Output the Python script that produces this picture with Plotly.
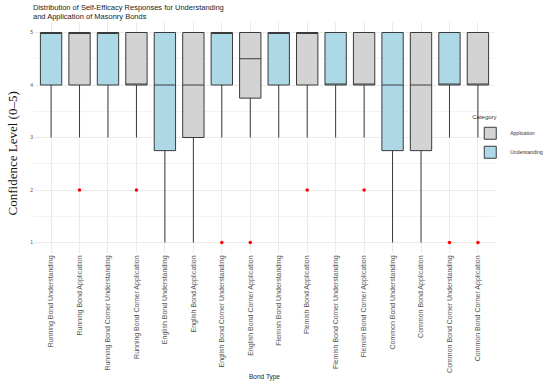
import plotly.graph_objects as go

categories = [
    "Running Bond Understanding", "Running Bond Application",
    "Running Bond Corner Understanding", "Running Bond Corner Application",
    "English Bond Understanding", "English Bond Application",
    "English Bond Corner Understanding", "English Bond Corner Application",
    "Flemish Bond Understanding", "Flemish Bond Application",
    "Flemish Bond Corner Understanding", "Flemish Bond Corner Application",
    "Common Bond Understanding", "Common Bond Application",
    "Common Bond Corner Understanding", "Common Bond Corner Application",
]
group = ["Understanding", "Application"] * 8
q1 = [4, 4, 4, 4, 2.75, 3, 4, 3.75, 4, 4, 4, 4, 2.75, 2.75, 4, 4]
median = [5, 5, 5, 4, 4, 4, 5, 4.5, 5, 5, 4, 4, 4, 4, 4, 4]
q3 = [5] * 16
lower = [3, 3, 3, 3, 1, 1, 3, 3, 3, 3, 3, 3, 1, 1, 3, 3]
upper = [5] * 16
outliers = [[], [2], [], [2], [], [], [1], [1], [], [2], [], [2], [], [], [1], [1]]

colors = {"Application": "#D3D3D3", "Understanding": "#ADD8E6"}

fig = go.Figure()
for g in ["Application", "Understanding"]:
    idx = [i for i, gg in enumerate(group) if gg == g]
    fig.add_trace(go.Box(
        x=[categories[i] for i in idx],
        q1=[q1[i] for i in idx],
        median=[median[i] for i in idx],
        q3=[q3[i] for i in idx],
        lowerfence=[lower[i] for i in idx],
        upperfence=[upper[i] for i in idx],
        name=g,
        fillcolor=colors[g],
        line=dict(color="#3a3a3a", width=1),
        whiskerwidth=0,
        width=0.75,
        boxpoints=False,
    ))

ox, oy = [], []
for c, outs in zip(categories, outliers):
    for v in outs:
        ox.append(c)
        oy.append(v)
fig.add_trace(go.Scatter(
    x=ox, y=oy, mode="markers", showlegend=False,
    marker=dict(color="red", size=3.5),
    hoverinfo="skip",
))

fig.update_layout(
    width=550, height=386,
    margin=dict(l=34, r=55, t=22, b=133, autoexpand=False),
    paper_bgcolor="white", plot_bgcolor="white",
    boxmode="overlay",
    title=dict(
        text="Distribution of Self-Efficacy Responses for Understanding<br>and Application of Masonry Bonds",
        x=0.06, xanchor="left", y=0.975, yanchor="top",
        font=dict(family="Liberation Sans, Arial", size=7.5, color="#222"),
    ),
    legend=dict(
        title=dict(text="Category", font=dict(size=6, color="#333")),
        font=dict(family="Liberation Sans, Arial", size=5, color="#333"),
        xref="container", yref="container",
        x=0.855, xanchor="left", y=0.64, yanchor="middle",
        itemwidth=30, tracegroupgap=0, bgcolor="rgba(0,0,0,0)",
    ),
    font=dict(family="Liberation Sans, Arial", color="#444"),
    annotations=[dict(
        text="Confidence Level (0–5)", textangle=-90,
        xref="paper", yref="paper", x=-0.046, y=0.43,
        xanchor="center", yanchor="middle", showarrow=False,
        font=dict(family="Liberation Serif, serif", size=13, color="#111"),
    )],
)
fig.update_xaxes(
    categoryorder="array", categoryarray=categories,
    range=[-0.6, 15.6], automargin=False,
    tickangle=-90, tickfont=dict(size=7, color="#555"),
    showgrid=True, gridcolor="#EBEBEB", gridwidth=0.6,
    showline=False, zeroline=False, ticks="",
    title=dict(text="Bond Type", font=dict(size=6.5, color="#222"), standoff=2),
)
fig.update_yaxes(
    range=[0.8, 5.2], tickvals=[1, 2, 3, 4, 5], automargin=False,
    tickfont=dict(size=5, color="#555"),
    showgrid=True, gridcolor="#EBEBEB", gridwidth=0.6,
    minor=dict(tickvals=[1.5, 2.5, 3.5, 4.5], showgrid=True, gridcolor="#F3F3F3", gridwidth=0.5),
    zeroline=False, showline=False, ticks="",
)
fig.write_html("out.html", config={"displayModeBar": False},
               post_script="document.body.style.margin='0';")
